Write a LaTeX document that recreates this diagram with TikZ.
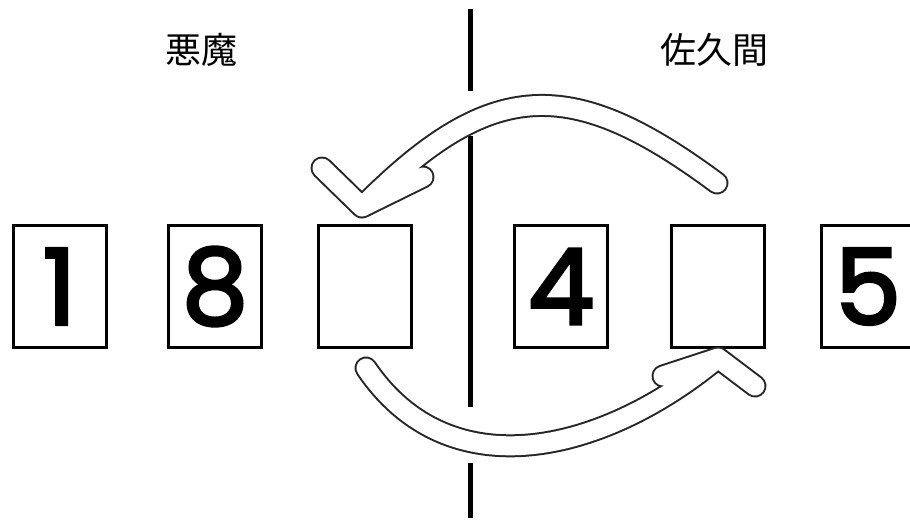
\documentclass[tikz,border=0pt]{standalone}
\usepackage{fontspec}
\newfontfamily\cjkfont{Noto Sans CJK JP}
\newfontfamily\digitfont[FakeBold=3]{Poppins}

\begin{document}
\begin{tikzpicture}[x=1pt,y=-1pt,
    card/.style={draw,line width=3pt,minimum width=93pt,minimum height=122pt,inner sep=0pt,
      font=\digitfont\fontsize{105}{105}\selectfont},
    side/.style={font=\cjkfont\fontsize{36}{36}\selectfont},
    fatarrow/.style={preaction={draw=black!85,line width=23pt,line cap=round,line join=round},
      draw=white,line width=19pt,line cap=round,line join=round}]
    \useasboundingbox (0,0) rectangle (910,531);
    % divider
    \draw[line width=5pt] (470,9) -- (470,91);
    \draw[line width=5pt] (470,136) -- (470,407);
    \draw[line width=5pt] (470,463) -- (470,518);%
    \node[side] (devil) at (201,50) {悪魔};
    \node[side] (sakuma) at (714,50) {佐久間};%
    \node[card] (c1) at (59.5,286.5) {1};
    \node[card] (c2) at (215,286.5) {8};
    \node[card] (c3) at (365,286.5) {};
    \node[card] (c4) at (561,286.5) {4};
    \node[card] (c5) at (717.5,286.5) {};
    \node[card] (c6) at (868,286.5) {5};%
    % swap arrows
    \coordinate (topstart) at (717,183);
    \coordinate (toptip) at (362,207);
    \coordinate (toparmA) at (322,168);
    \coordinate (toparmB) at (423,177);
    \coordinate (botstart) at (366,368);
    \coordinate (bottip) at (718,358);
    \coordinate (botarmA) at (663,376);
    \coordinate (botarmB) at (755,386);
    \draw[fatarrow] (topstart) .. controls (570,74) and (490,78) .. (toptip)
      (toparmA) -- (toptip) -- (toparmB);
    \draw[fatarrow] (botstart) .. controls (450,492) and (605,452) .. (bottip)
      (botarmA) -- (bottip) -- (botarmB);
\end{tikzpicture}
\end{document}
